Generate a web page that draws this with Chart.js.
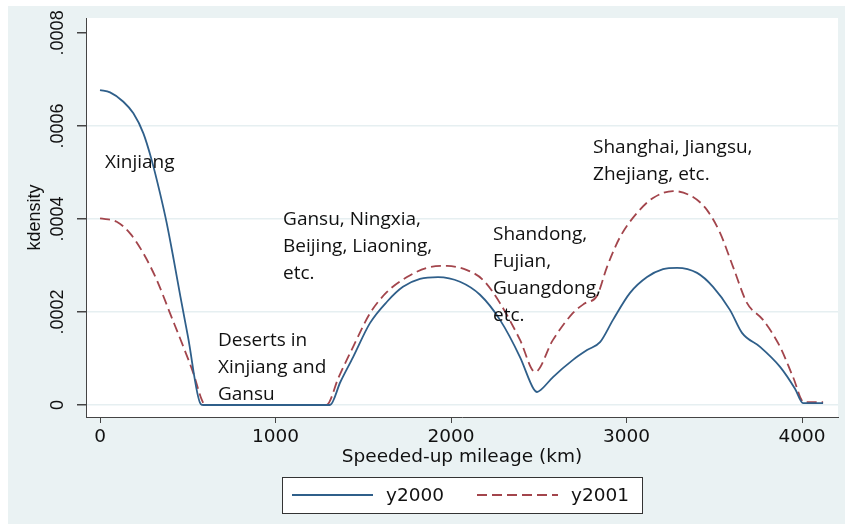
<!DOCTYPE html>
<html>
<head>
<meta charset="utf-8">
<script src="https://cdn.jsdelivr.net/npm/chart.js@4.4.1/dist/chart.umd.min.js"></script>
<style>
  html, body { margin: 0; padding: 0; background: #fff; }
  canvas { display: block; }
</style>
</head>
<body>
<canvas id="grafico" width="845" height="524"></canvas>
<script>
// valores
const seriesNames = ['y2000', 'y2001'];
const xTicks = [0, 1000, 2000, 3000, 4000];
const yTicks = [0, 0.0002, 0.0004, 0.0006, 0.0008];
const yTickLabels = ['0', '.0002', '.0004', '.0006', '.0008'];

const mileage2000 = [0, 57, 133, 190, 247, 294, 342, 380, 420, 458, 501, 574, 590, 1310, 1370, 1442, 1538, 1635, 1726, 1823, 1926,
  2051, 2165, 2279, 2393, 2470, 2490, 2510, 2581, 2695, 2775, 2849, 2923, 3020, 3117, 3208, 3288, 3402, 3493, 3590,
  3658, 3761, 3875, 3960, 4006, 4120];
const density2000 = [0.000677, 0.000672, 0.000652, 0.000627, 0.000584, 0.000527, 0.000455, 0.000391, 0.000312, 0.000233,
  0.000147, 0.000002, 0, 0, 0.000050, 0.000103, 0.000176, 0.000222, 0.000254, 0.000271, 0.000275,
  0.000265, 0.000237, 0.000183, 0.000103, 0.000035, 0.000028, 0.000032, 0.000060, 0.000097, 0.000118, 0.000135,
  0.000183, 0.000241, 0.000275, 0.000292, 0.000295, 0.000284, 0.000254, 0.000204,
  0.000155, 0.000125, 0.000082, 0.000035, 0.000004, 0.000004];

const mileage2001 = [0, 95, 171, 247, 323, 399, 475, 532, 580, 598, 1290, 1360, 1442, 1538, 1635, 1749, 1863, 1977, 2091, 2182,
  2279, 2393, 2479, 2581, 2695, 2760, 2832, 2889, 2963, 3060, 3151, 3265, 3379, 3459, 3533, 3607, 3687, 3778,
  3875, 3949, 4011, 4120];
const density2001 = [0.000401, 0.000394, 0.000369, 0.000326, 0.000269, 0.000197, 0.000125, 0.000068, 0.000011, 0,
  0, 0.000060, 0.000125, 0.000197, 0.000243, 0.000275, 0.000295, 0.000299, 0.000290, 0.000269,
  0.000219, 0.000140, 0.000071, 0.000140, 0.000198, 0.000218, 0.000235, 0.000297, 0.000361, 0.000413, 0.000445,
  0.000460, 0.000447, 0.000419, 0.000370, 0.000297, 0.000219, 0.000183,
  0.000125, 0.000060, 0.000006, 0.000006];

// textos de las regiones, anclados en coordenadas de datos (km, densidad de la primera linea)
const regiones = [
  { lineas: ['Xinjiang'], km: 28, dens: 0.000510 },
  { lineas: ['Deserts in', 'Xinjiang and', 'Gansu'], km: 672, dens: 0.000127 },
  { lineas: ['Gansu, Ningxia,', 'Beijing, Liaoning,', 'etc.'], km: 1043, dens: 0.000387 },
  { lineas: ['Shandong,', 'Fujian,', 'Guangdong,', 'etc.'], km: 2239, dens: 0.000355 },
  { lineas: ['Shanghai, Jiangsu,', 'Zhejiang, etc.'], km: 2809, dens: 0.000542 }
];

const colores = ['#2f5f8a', '#a3454c'];
const fondo = '#eaf2f3';
const tinta = '#111111';
const fuenteEjes = '"DejaVu Sans", sans-serif';

function puntos(xs, ys) {
  return xs.map((x, i) => ({ x: x, y: ys[i] }));
}

const fondoPlugin = {
  id: 'fondo',
  beforeDraw(chart) {
    const { ctx, chartArea } = chart;
    ctx.save();
    ctx.fillStyle = '#ffffff';
    ctx.fillRect(0, 0, chart.width, chart.height);
    ctx.fillStyle = fondo;
    ctx.fillRect(8, 6, chart.width - 8, chart.height - 6);
    ctx.fillStyle = '#ffffff';
    ctx.fillRect(chartArea.left, chartArea.top, chartArea.right - chartArea.left, chartArea.bottom - chartArea.top);
    ctx.restore();
  }
};

const etiquetasPlugin = {
  id: 'etiquetas',
  afterDraw(chart) {
    const { ctx } = chart;
    const xs = chart.scales.x, ys = chart.scales.y;
    ctx.save();

    // etiquetas del eje y, giradas
    ctx.fillStyle = tinta;
    ctx.font = '18px "Liberation Sans", Arial, sans-serif';
    ctx.textAlign = 'center';
    ctx.textBaseline = 'alphabetic';
    ys.ticks.forEach(t => {
      const py = ys.getPixelForValue(t.value);
      ctx.save();
      ctx.translate(63, py);
      ctx.rotate(-Math.PI / 2);
      ctx.fillText(t.label, 0, 0);
      ctx.restore();
    });

    // textos de regiones
    ctx.font = '19px "Open Sans", sans-serif';
    ctx.textAlign = 'left';
    ctx.fillStyle = '#111';
    regiones.forEach(r => {
      const px = xs.getPixelForValue(r.km);
      const py = ys.getPixelForValue(r.dens);
      r.lineas.forEach((l, i) => ctx.fillText(l, px, py + i * 27));
    });

    // leyenda con recuadro
    const caja = { x: 282, y: 477, w: 360, h: 36 };
    ctx.fillStyle = '#ffffff';
    ctx.fillRect(caja.x, caja.y, caja.w, caja.h);
    ctx.strokeStyle = '#333';
    ctx.lineWidth = 1;
    ctx.strokeRect(caja.x + 0.5, caja.y + 0.5, caja.w, caja.h);
    const yl = caja.y + 18;
    ctx.font = '18.5px ' + fuenteEjes;
    ctx.textBaseline = 'middle';
    chart.data.datasets.forEach((ds, i) => {
      const x0 = 292 + i * 185;
      ctx.beginPath();
      ctx.strokeStyle = ds.borderColor;
      ctx.lineWidth = ds.borderWidth;
      ctx.setLineDash(ds.borderDash || []);
      ctx.moveTo(x0, yl);
      ctx.lineTo(x0 + 81, yl);
      ctx.stroke();
      ctx.setLineDash([]);
      ctx.fillStyle = tinta;
      ctx.fillText(ds.label, x0 + 94, yl + 1);
    });
    ctx.restore();
  }
};

new Chart(document.getElementById('grafico'), {
  type: 'scatter',
  data: {
    datasets: [
      {
        label: seriesNames[0],
        data: puntos(mileage2000, density2000),
        showLine: true,
        borderColor: colores[0],
        borderWidth: 1.8,
        pointRadius: 0,
        cubicInterpolationMode: 'monotone'
      },
      {
        label: seriesNames[1],
        data: puntos(mileage2001, density2001),
        showLine: true,
        borderColor: colores[1],
        borderWidth: 1.8,
        borderDash: [10, 5],
        pointRadius: 0,
        cubicInterpolationMode: 'monotone'
      }
    ]
  },
  options: {
    responsive: false,
    animation: false,
    events: [],
    layout: { padding: { left: 8, top: 18, right: 7, bottom: 54 } },
    plugins: {
      legend: { display: false },
      tooltip: { enabled: false }
    },
    scales: {
      x: {
        type: 'linear',
        min: -80,
        max: 4205,
        afterBuildTicks: s => { s.ticks = xTicks.map(v => ({ value: v })); },
        afterFit: s => { s.height = 53; },
        ticks: {
          color: tinta,
          font: { family: fuenteEjes, size: 18.5 },
          padding: 3,
          maxRotation: 0,
          callback: v => String(v)
        },
        grid: { display: true, drawOnChartArea: false, drawTicks: true, tickLength: 6, tickColor: '#444' },
        border: { display: true, color: '#444', width: 1 },
        title: {
          display: true,
          text: 'Speeded-up mileage (km)',
          color: tinta,
          font: { family: fuenteEjes, size: 18.5, lineHeight: 1.2 },
          padding: { top: 0, bottom: 2 }
        }
      },
      y: {
        type: 'linear',
        min: -0.0000258,
        max: 0.000832,
        afterBuildTicks: s => { s.ticks = yTicks.map(v => ({ value: v })); },
        afterFit: s => { s.width = 78; },
        ticks: {
          color: 'transparent',
          font: { size: 18 },
          callback: (v) => yTickLabels[yTicks.indexOf(v)]
        },
        grid: {
          display: true,
          drawOnChartArea: true,
          color: c => (c.tick && c.tick.value > 0.00079) ? 'transparent' : '#e6eff1',
          lineWidth: 1.5,
          drawTicks: true,
          tickLength: 9,
          tickColor: '#444'
        },
        border: { display: true, color: '#444', width: 1 },
        title: {
          display: true,
          text: 'kdensity',
          color: tinta,
          font: { family: '"Liberation Sans", Arial, sans-serif', size: 18, lineHeight: 1.2 },
          padding: { top: 16, bottom: 0 }
        }
      }
    }
  },
  plugins: [fondoPlugin, etiquetasPlugin]
});
</script>
</body>
</html>
